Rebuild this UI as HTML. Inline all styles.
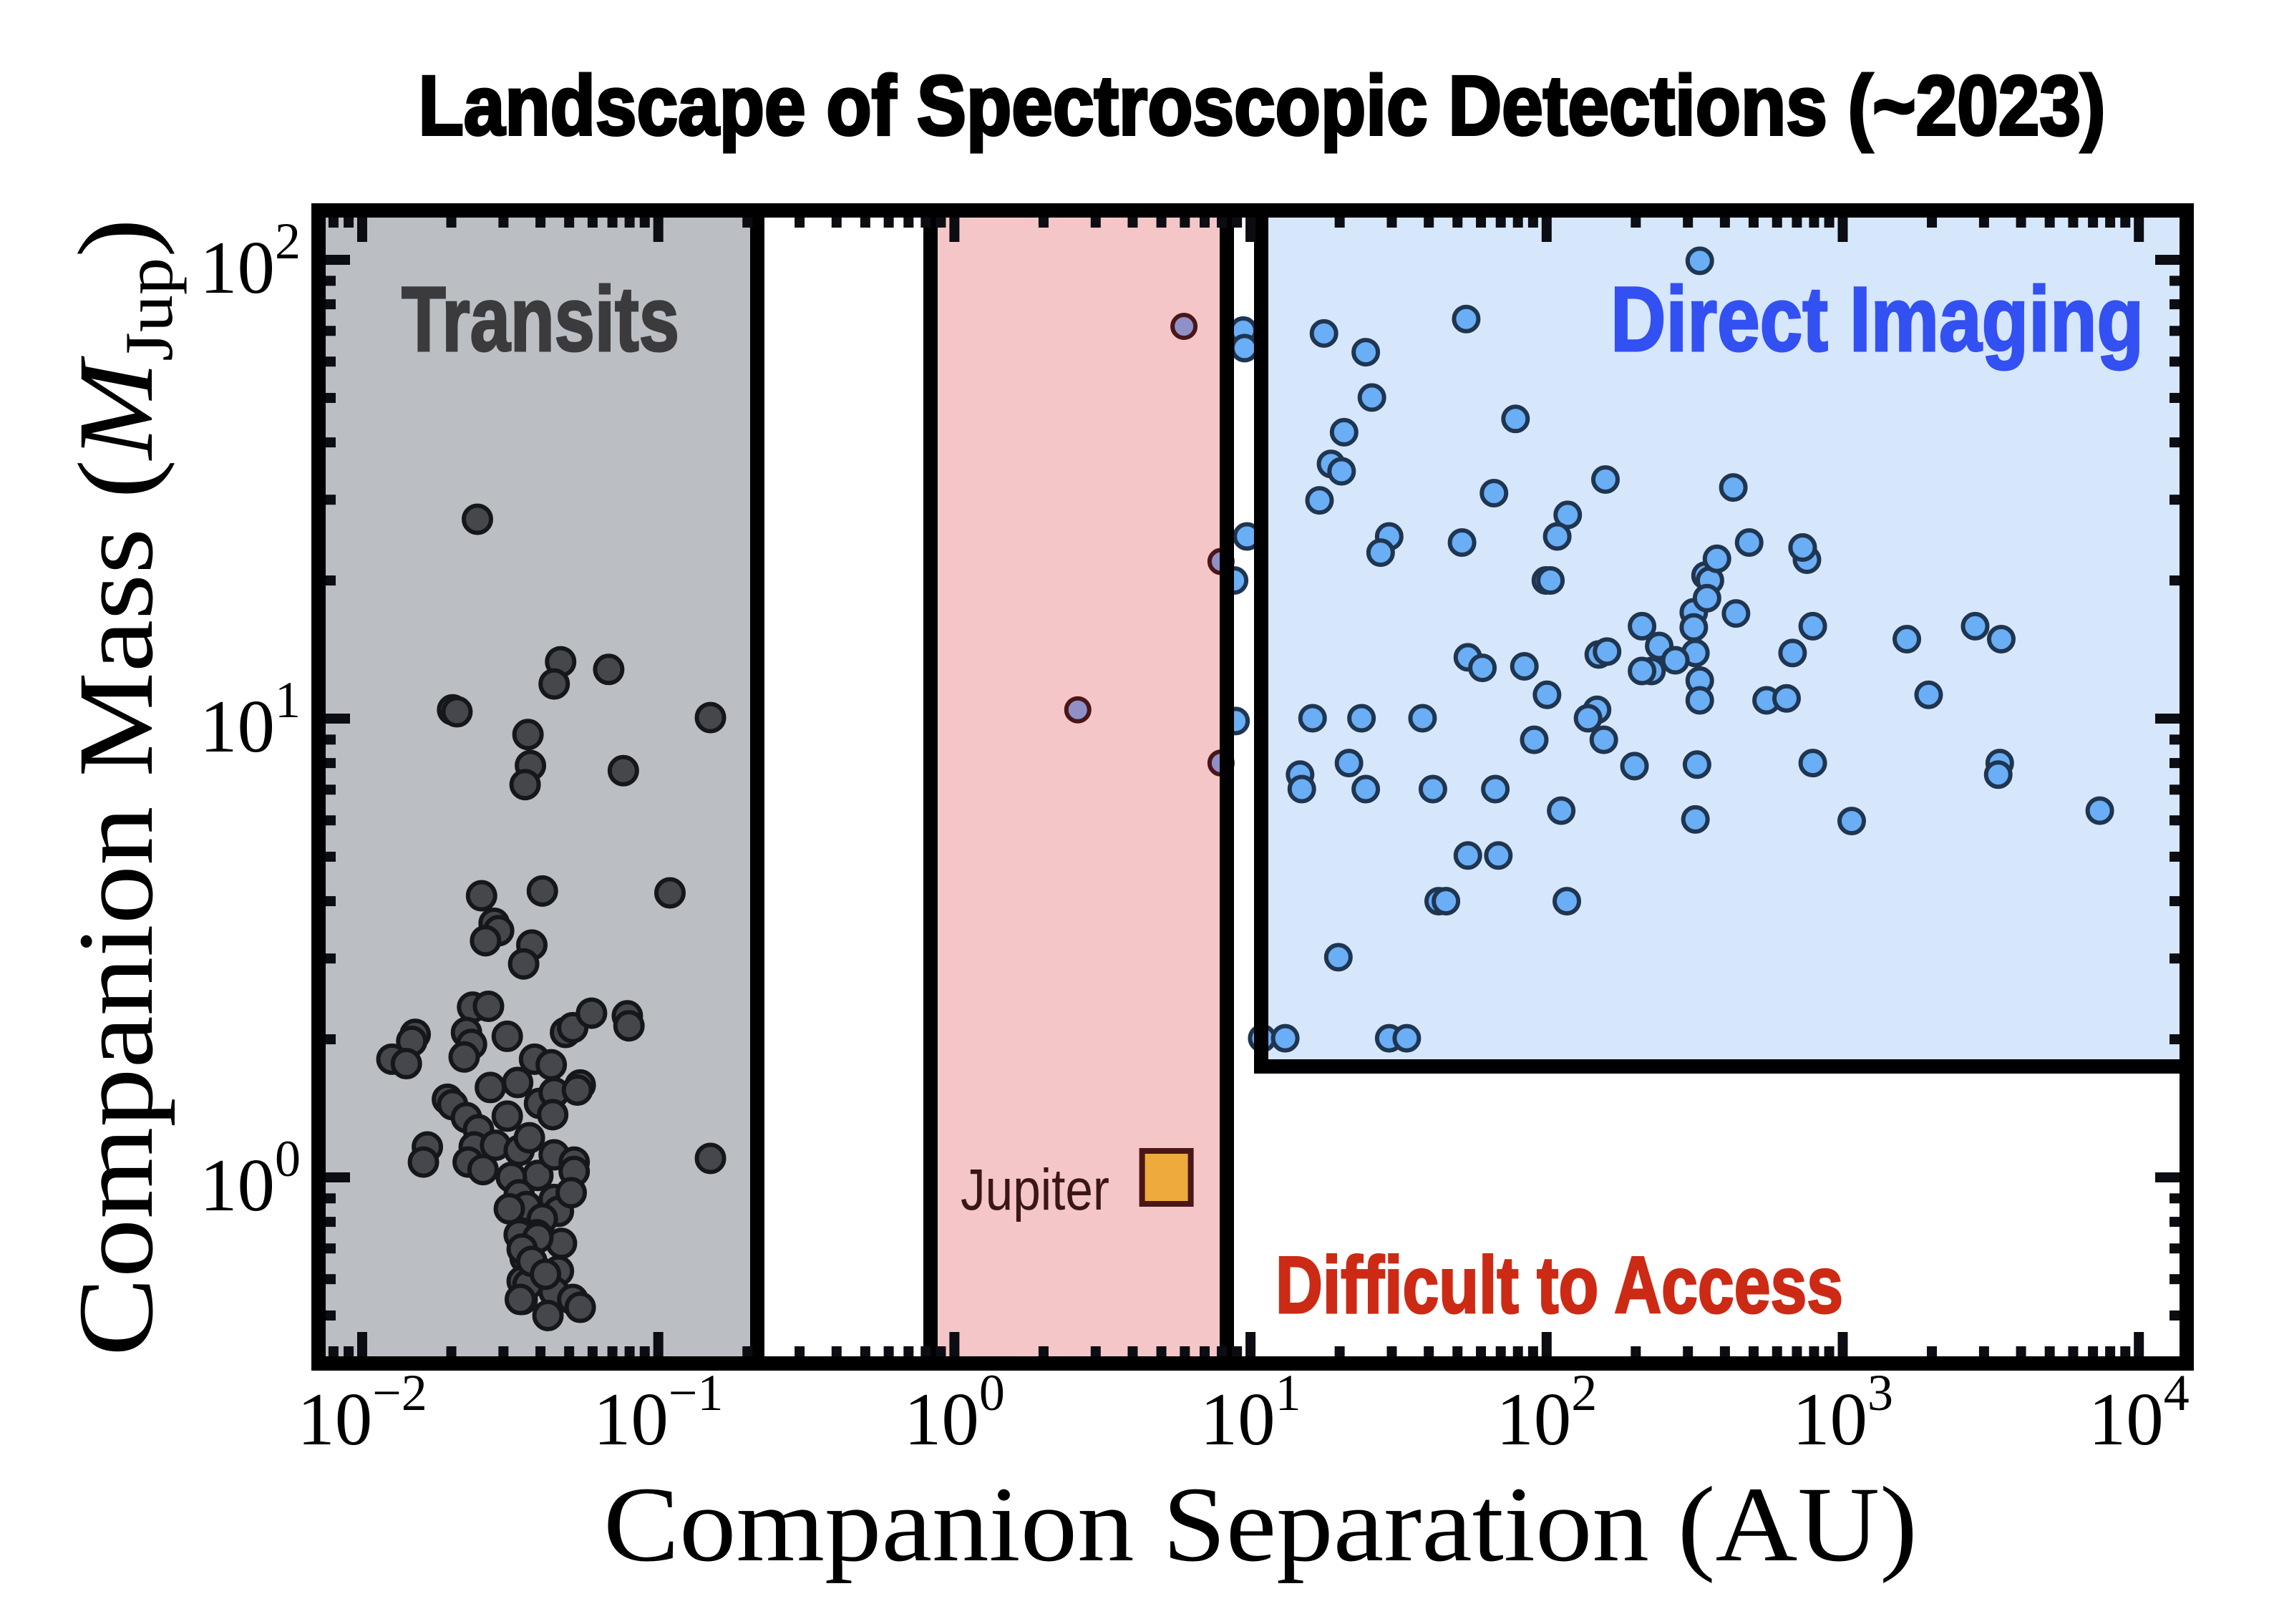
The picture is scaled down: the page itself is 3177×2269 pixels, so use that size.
<!DOCTYPE html>
<html><head><meta charset="utf-8"><style>
html,body{margin:0;padding:0;background:#fff;}
svg{display:block;}
</style></head><body>
<svg id="chart" width="3177" height="2269" viewBox="0 0 3177 2269" xmlns="http://www.w3.org/2000/svg">
<rect x="0" y="0" width="3177" height="2269" fill="#fff"/>
<text x="1763" y="188" text-anchor="middle" font-family="'Liberation Sans Narrow','Liberation Sans',sans-serif" font-weight="bold" font-size="118" stroke="#000" stroke-width="4" textLength="2357" lengthAdjust="spacingAndGlyphs">Landscape of Spectroscopic Detections (~2023)</text>
<g id="regions"></g>
<g id="points"></g>
<g id="borders"></g>
<g id="ticks"></g>
<g id="labels"></g>
<text x="561" y="490" font-family="'Liberation Sans Narrow','Liberation Sans',sans-serif" font-weight="bold" font-size="128" fill="#3b3b3d" stroke="#3b3b3d" stroke-width="3" textLength="388" lengthAdjust="spacingAndGlyphs">Transits</text>
<text x="2250" y="490" font-family="'Liberation Sans Narrow','Liberation Sans',sans-serif" font-weight="bold" font-size="128" fill="#3350f2" stroke="#3350f2" stroke-width="3" textLength="745" lengthAdjust="spacingAndGlyphs">Direct Imaging</text>
<text x="1782" y="1834" font-family="'Liberation Sans Narrow','Liberation Sans',sans-serif" font-weight="bold" font-size="112" fill="#cc2a14" stroke="#cc2a14" stroke-width="3" textLength="793" lengthAdjust="spacingAndGlyphs">Difficult to Access</text>
<text x="1342" y="1690" font-family="'Liberation Sans Narrow','Liberation Sans',sans-serif" font-size="82" fill="#3a1616" textLength="208" lengthAdjust="spacingAndGlyphs">Jupiter</text>
<text x="1761" y="2180" text-anchor="middle" font-family="'Liberation Serif',serif" font-size="150" textLength="1836" lengthAdjust="spacingAndGlyphs">Companion Separation (AU)</text>
<text transform="translate(212,1100) rotate(-90)" text-anchor="middle" font-family="'Liberation Serif',serif" font-size="150" textLength="1590" lengthAdjust="spacingAndGlyphs">Companion Mass (<tspan font-style="italic">M</tspan><tspan font-size="95" dy="28">Jup</tspan><tspan dy="-28">)</tspan></text>
</svg>
<script>
const transitSep=[0.0245,0.0202,0.0209,0.0468,0.0445,0.068,0.0363,0.037,0.0355,0.0762,0.150,0.1095,0.0253,0.0406,0.0279,0.0289,0.0261,0.0374,0.0351,0.0236,0.0267,0.0151,0.0147,0.0126,0.0141,0.0225,0.0234,0.0221,0.0309,0.0486,0.0514,0.0595,0.0786,0.0796,0.0382,0.0435,0.0194,0.0202,0.0271,0.0335,0.0397,0.0445,0.0545,0.0533,0.0225,0.0247,0.0309,0.044,0.0166,0.0161,0.0239,0.0282,0.0339,0.0367,0.0392,0.0445,0.052,0.052,0.0228,0.0256,0.0319,0.0339,0.0359,0.0445,0.046,0.0508,0.0406,0.0389,0.0339,0.0471,0.0355,0.046,0.0347,0.0445,0.0347,0.0363,0.0424,0.0514,0.0545,0.150,0.0392,0.0347,0.0374,0.0416,0.0314,0.0342];
const transitMass=[27.2,10.45,10.35,13.3,11.9,12.8,9.23,7.9,7.18,7.7,10.05,4.17,4.11,4.21,3.58,3.45,3.28,3.21,2.92,2.35,2.36,2.05,1.98,1.81,1.77,2.07,1.95,1.83,2.03,2.07,2.12,2.28,2.25,2.14,1.81,1.76,1.48,1.44,1.57,1.61,1.45,1.53,1.59,1.55,1.35,1.27,1.36,1.37,1.165,1.08,1.165,1.175,1.145,1.22,1.01,1.12,1.08,1.03,1.08,1.04,1.0,0.916,0.864,0.895,0.843,0.926,0.812,0.75,0.75,0.718,0.667,0.625,0.594,0.563,0.542,0.584,0.5,0.542,0.521,1.1,0.739,0.698,0.656,0.615,0.854,0.542];
const rvSep=[5.96,2.61,7.95,7.95];
const rvMass=[71.6,10.45,22.0,8.0];
const imgSep=[329,53.5,17.7,24.5,25.7,78.5,20.7,18.7,20.3,17.1,117.8,158,66.4,427,29.4,27.5,51.8,108.6,483,732,757,99.4,103,344,356,314,436,314,792,210,1646,2800,3430,150,160,54.2,60.7,84.1,240,318,272,226,677,210,329,100.3,148,329,553,646,1950,16.2,23.7,38.1,138,156,90.8,198,322,792,3390,3350,21.5,14.7,14.9,24.5,41.3,67.1,112,318,1072,7380,54.2,68.7,43.2,45.7,117,19.8,10.95,13.1,29.4,33.7,732,376,348,9.45,9.55,9.73,8.8,8.9];
const imgMass=[99.5,74.3,69.1,62.9,50.1,45.0,42.1,35.9,34.6,29.9,27.8,33.2,31.0,31.9,24.95,23.0,24.2,24.95,24.2,23.6,22.2,20.0,20.0,20.5,20.0,17.05,16.95,15.8,15.9,15.9,14.9,15.9,14.9,13.8,14.0,13.6,12.9,13.0,14.4,13.9,13.4,12.7,13.9,12.7,12.1,11.27,10.45,10.96,10.96,11.07,11.27,10.02,10.02,10.02,10.02,8.99,8.99,7.88,7.94,8.0,8.0,7.55,8.0,7.55,7.02,7.02,7.02,7.02,6.3,6.03,5.98,6.3,5.03,5.03,4.0,4.0,4.0,3.02,2.01,2.01,2.01,2.01,23.6,22.3,18.3,70.1,64.2,24.95,20.0,9.88];
const xTickVals=[0.01,0.1,1,10,100,1000,10000];
const xTickExp=["\u22122","\u22121","0","1","2","3","4"];
const yTickVals=[1,10,100];
const yTickExp=["0","1","2"];
const jupiterSep=[5.2];
const jupiterMass=[1.0];

const NS="http://www.w3.org/2000/svg";
const L=445,R=3055,T=294,B=1905;
function X(v){return 506+(Math.log10(v)+2)*413.7;}
function Y(v){return 1645-Math.log10(v)*641;}
function mk(tag,attrs,parent){const e=document.createElementNS(NS,tag);for(const k in attrs)e.setAttribute(k,attrs[k]);parent.appendChild(e);return e;}
const regions=document.getElementById('regions'),points=document.getElementById('points'),borders=document.getElementById('borders'),ticks=document.getElementById('ticks'),labels=document.getElementById('labels');

const xTr=1058,xP1=1300,xP2=1714,xB=1762,yB=1490;
let r;
r=mk('rect',{x:L,y:T,width:xTr-L,height:B-T,fill:'#bbbec3'},regions);


r=mk('rect',{x:xP1,y:T,width:xP2-xP1,height:B-T,fill:'#f4c6c8'},regions);


r=mk('rect',{x:xB,y:T,width:R-xB,height:yB-T,fill:'#d6e7fb'},regions);



const tg='#0b0d12';
function xt(v,len){
  const x=X(v);
  let t=mk('rect',{x:x-7,y:B-10-len,width:14,height:len,fill:tg},ticks);
  
  
  t=mk('rect',{x:x-7,y:T+10,width:14,height:len,fill:tg},ticks);
  
  
}
function yt(v,len){
  const y=Y(v);
  let t=mk('rect',{x:L+10,y:y-7,width:len,height:14,fill:tg},ticks);
  
  
  t=mk('rect',{x:R-10-len,y:y-7,width:len,height:14,fill:tg},ticks);
  
  
}
for(let d=-3;d<=4;d++){for(let m=1;m<10;m++){const v=m*Math.pow(10,d);const x=X(v);if(x<L+12||x>R-12)continue;xt(v,m===1?34:14);}}
for(let d=-1;d<=2;d++){for(let m=1;m<10;m++){const v=m*Math.pow(10,d);const y=Y(v);if(y<T+12||y>B-12)continue;yt(v,m===1?34:14);}}

function dot(s,m,rad,fill,stroke,name){
  const c=mk('circle',{cx:X(s),cy:Y(m),r:rad,fill:fill,stroke:stroke,'stroke-width':6},points);
  
  
}
transitSep.forEach((s,i)=>dot(s,transitMass[i],19,'#45474c','#16171a','transit-point'));
rvSep.forEach((s,i)=>dot(s,rvMass[i],16,'#9090c8','#4a1616','rv-point'));
imgSep.forEach((s,i)=>dot(s,imgMass[i],17,'#6aaef5','#1f3550','imaging-point'));

function box(x1,y1,x2,y2,name){
  const b=mk('rect',{x:x1,y:y1,width:x2-x1,height:y2-y1,fill:'none',stroke:'#000','stroke-width':20},borders);
  
  
}
box(L,T,R,B,'axes-frame');
box(L,T,xTr,B,'transits-box');
box(xP1,T,xP2,B,'radial-velocity-box');
box(xB,T,R,yB,'direct-imaging-box');

jupiterSep.forEach((s,i)=>{
  const q=mk('rect',{x:X(s)-34,y:Y(jupiterMass[i])-37,width:68,height:74,fill:'#eeaa3c',stroke:'#4a1616','stroke-width':8},borders);
  
  
});

xTickVals.forEach((v,i)=>{
  const x=X(v);
  const t=mk('text',{x:x,y:2018,'text-anchor':'middle','font-family':"'Liberation Serif',serif",'font-size':105},labels);
  
  
  const a=document.createElementNS(NS,'tspan');a.textContent='10';t.appendChild(a);
  const b=document.createElementNS(NS,'tspan');b.setAttribute('font-size','72');b.setAttribute('dy','-48');b.textContent=xTickExp[i];t.appendChild(b);
});
yTickVals.forEach((v,i)=>{
  const y=Y(v);
  const t=mk('text',{x:420,y:y+46,'text-anchor':'end','font-family':"'Liberation Serif',serif",'font-size':105},labels);
  
  
  const a=document.createElementNS(NS,'tspan');a.textContent='10';t.appendChild(a);
  const b=document.createElementNS(NS,'tspan');b.setAttribute('font-size','72');b.setAttribute('dy','-48');b.textContent=yTickExp[i];t.appendChild(b);
});
</script>
</body></html>
